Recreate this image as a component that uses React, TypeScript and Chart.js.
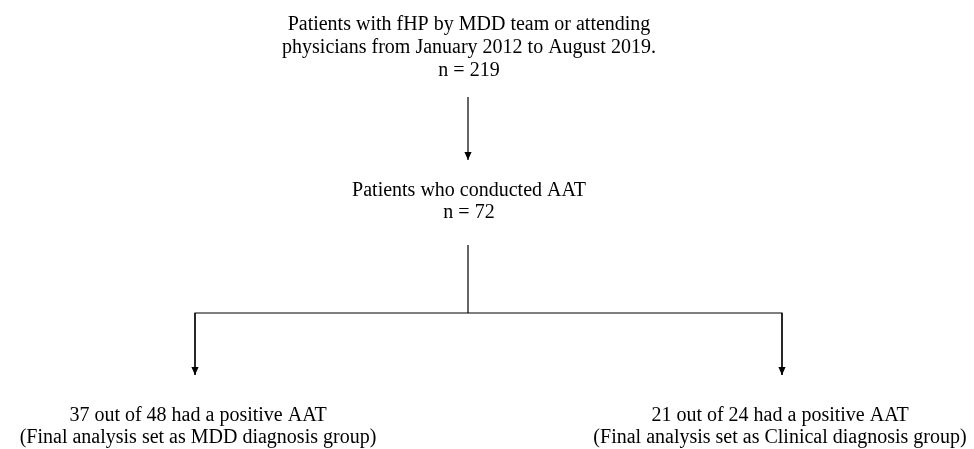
import React, { useEffect, useRef } from "react";
import { Chart, registerables } from "chart.js";

Chart.register(...registerables);

// ---- Data ----
const topLines = [
  "Patients with fHP by MDD team or attending",
  "physicians from January 2012 to August 2019.",
];
const totalN = 219;
const aatLines = ["Patients who conducted AAT"];
const aatN = 72;
const groupPositive = [37, 21];
const groupTotal = [48, 24];
const groupNames = ["MDD diagnosis group", "Clinical diagnosis group"];

// ---- Layout (pixel-like units of the drawing area) ----
const W = 974;
const H = 449;
const CX = 468;
const LEFT_X = 195;
const RIGHT_X = 782;
const FONT = '20px "Liberation Serif", "Times New Roman", serif';

type TextBlock = { x: number; y: number[]; lines: string[] };

const textBlocks: TextBlock[] = [
  { x: 469, y: [25, 48, 71], lines: [...topLines, `n = ${totalN}`] },
  { x: 469, y: [191, 213], lines: [...aatLines, `n = ${aatN}`] },
  {
    x: 198,
    y: [416, 438],
    lines: [
      `${groupPositive[0]} out of ${groupTotal[0]} had a positive AAT`,
      `(Final analysis set as ${groupNames[0]})`,
    ],
  },
  {
    x: 780,
    y: [416, 438],
    lines: [
      `${groupPositive[1]} out of ${groupTotal[1]} had a positive AAT`,
      `(Final analysis set as ${groupNames[1]})`,
    ],
  },
];

type Connector = { pts: { x: number; y: number }[]; arrow: boolean };
const connectors: Connector[] = [
  { pts: [{ x: CX, y: 97 }, { x: CX, y: 160 }], arrow: true },
  { pts: [{ x: CX, y: 245 }, { x: CX, y: 313 }], arrow: false },
  { pts: [{ x: LEFT_X, y: 375 }, { x: LEFT_X, y: 313 }, { x: RIGHT_X, y: 313 }, { x: RIGHT_X, y: 375 }], arrow: false },
  { pts: [{ x: LEFT_X, y: 313 }, { x: LEFT_X, y: 375 }], arrow: true },
  { pts: [{ x: RIGHT_X, y: 313 }, { x: RIGHT_X, y: 375 }], arrow: true },
];

const flowPlugin = {
  id: "flowText",
  afterDatasetsDraw(chart: any) {
    const { ctx, scales } = chart;
    const xs = scales.x;
    const ys = scales.y;
    ctx.save();
    // arrowheads
    chart.data.datasets.forEach((ds: any, i: number) => {
      if (!ds.arrow) return;
      const meta = chart.getDatasetMeta(i);
      const pts = meta.data;
      const tip = pts[pts.length - 1];
      const prev = pts[pts.length - 2];
      const ang = Math.atan2(tip.y - prev.y, tip.x - prev.x);
      const len = 8;
      const half = 3.6;
      ctx.fillStyle = "#000";
      ctx.beginPath();
      ctx.moveTo(tip.x, tip.y);
      ctx.lineTo(
        tip.x - len * Math.cos(ang) + half * Math.sin(ang),
        tip.y - len * Math.sin(ang) - half * Math.cos(ang)
      );
      ctx.lineTo(
        tip.x - len * Math.cos(ang) - half * Math.sin(ang),
        tip.y - len * Math.sin(ang) + half * Math.cos(ang)
      );
      ctx.closePath();
      ctx.fill();
    });
    // texts
    ctx.font = FONT;
    ctx.fillStyle = "#000";
    ctx.textAlign = "center";
    ctx.textBaseline = "middle";
    textBlocks.forEach((b) => {
      b.lines.forEach((line, j) => {
        ctx.fillText(line, xs.getPixelForValue(b.x), ys.getPixelForValue(b.y[j]));
      });
    });
    ctx.restore();
  },
};

export default function App() {
  const ref = useRef<HTMLCanvasElement | null>(null);
  useEffect(() => {
    document.body.style.margin = "0";
    const canvas = ref.current;
    if (!canvas) return;
    const chart = new Chart(canvas, {
      type: "scatter",
      data: {
        datasets: connectors.map((c) => ({
          data: c.pts,
          showLine: true,
          borderColor: "#000",
          borderWidth: 1.2,
          pointRadius: 0,
          pointHoverRadius: 0,
          fill: false,
          tension: 0,
          arrow: c.arrow,
        })) as any,
      },
      options: {
        animation: false,
        responsive: false,
        maintainAspectRatio: false,
        devicePixelRatio: 1,
        layout: { padding: 0 },
        events: [],
        plugins: { legend: { display: false }, tooltip: { enabled: false } },
        scales: {
          x: { type: "linear", min: 0, max: W, display: false },
          y: { type: "linear", min: 0, max: H, reverse: true, display: false },
        },
      },
      plugins: [flowPlugin],
    });
    return () => chart.destroy();
  }, []);
  return (
    <div style={{ position: "absolute", left: 0, top: 0, width: W, height: H, background: "#fff" }}>
      <canvas ref={ref} width={W} height={H} style={{ width: W, height: H, display: "block" }} />
    </div>
  );
}
